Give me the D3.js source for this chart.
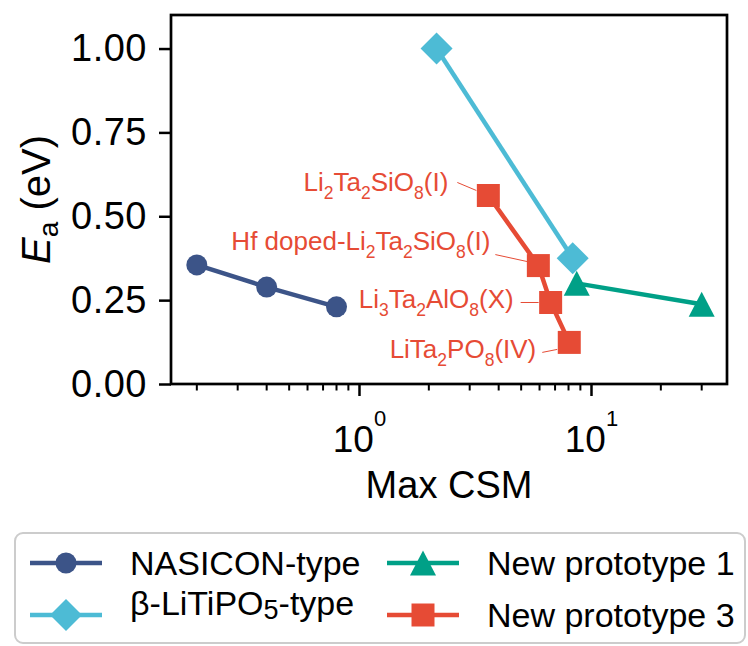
<!DOCTYPE html>
<html>
<head>
<meta charset="utf-8">
<script src="https://cdn.jsdelivr.net/npm/d3@7"></script>
<style>
  body { margin: 0; background: #fff; }
  svg { display: block; font-family: "Liberation Sans", Arial, sans-serif; }
</style>
</head>
<body>
<div id="chart"></div>
<script>
// --- data ---
const nasiconX = [0.20, 0.40, 0.80];
const nasiconY = [0.355, 0.289, 0.230];
const betaX = [2.16, 8.34];
const betaY = [1.00, 0.375];
const proto1X = [8.68, 30.0];
const proto1Y = [0.300, 0.238];
const proto3X = [3.61, 5.93, 6.70, 8.06];
const proto3Y = [0.562, 0.353, 0.243, 0.124];
// "_d" marks a subscript digit
const proto3Labels = ["Li_2Ta_2SiO_8(I)", "Hf doped-Li_2Ta_2SiO_8(I)", "Li_3Ta_2AlO_8(X)", "LiTa_2PO_8(IV)"];

const yTicks = [0, 0.25, 0.5, 0.75, 1.0];
const xMajor = [1, 10];
const xMinor = [0.2, 0.3, 0.4, 0.5, 0.6, 0.7, 0.8, 0.9, 2, 3, 4, 5, 6, 7, 8, 9, 20, 30];

const series = [
  {name: "NASICON-type", xs: nasiconX, ys: nasiconY, color: "#3C5488", shape: "circle"},
  {name: "β-LiTiPO_5-type", xs: betaX, ys: betaY, color: "#4DBBD5", shape: "diamond"},
  {name: "New prototype 1", xs: proto1X, ys: proto1Y, color: "#00A087", shape: "triangle"},
  {name: "New prototype 3", xs: proto3X, ys: proto3Y, color: "#E64B35", shape: "square"}
];

// label placement relative to each point (px): text end, baseline, leader start/end
const labelLayout = [
  {tx: -40, ty: -4, l: [-31, -13, -12, -5]},
  {tx: -48, ty: -16, l: [-43, -11, -11, -4]},
  {tx: -37, ty: 6, l: [-30, 0, -12, 0]},
  {tx: -33, ty: 16, l: [-27, 10, -12, 7]}
];

const width = 748, height = 646;
const margin = {top: 15, right: 21, bottom: 262, left: 171};

const x = d3.scaleLog()
  .domain([Math.pow(10, -0.8103), Math.pow(10, 1.5862)])
  .range([margin.left, width - margin.right]);
const y = d3.scaleLinear()
  .domain([0, 1.1])
  .range([height - margin.bottom, margin.top]);

const svg = d3.select("#chart").append("svg")
  .attr("width", width)
  .attr("height", height)
  .attr("viewBox", [0, 0, width, height]);

function markerPath(shape) {
  const p = d3.path();
  if (shape === "circle") {
    p.arc(0, 0, 10.5, 0, 2 * Math.PI);
  } else if (shape === "diamond") {
    const r = 16;
    p.moveTo(0, -r); p.lineTo(r, 0); p.lineTo(0, r); p.lineTo(-r, 0); p.closePath();
  } else if (shape === "triangle") {
    const w = 13, h = 12.5;
    p.moveTo(0, -h); p.lineTo(w, h); p.lineTo(-w, h); p.closePath();
  } else {
    const s = 11.5;
    p.rect(-s, -s, 2 * s, 2 * s);
  }
  return p.toString();
}

// text with "_d" subscripts into tspans
function richText(sel, str, size, subSize, shift) {
  const parts = str.split(/(_\d)/).filter(s => s.length);
  let cur = 0;
  parts.forEach(part => {
    const sub = part.startsWith("_");
    const want = sub ? shift : 0;
    sel.append("tspan")
      .attr("font-size", sub ? subSize : size)
      .attr("dy", want - cur)
      .text(sub ? part.slice(1) : part);
    cur = want;
  });
}

// axes
const yAxis = svg.append("g")
  .attr("transform", `translate(${margin.left},0)`)
  .call(d3.axisLeft(y).tickValues(yTicks).tickFormat(d3.format(".2f")).tickSize(12).tickPadding(12));
yAxis.select(".domain").remove();
yAxis.selectAll(".tick line").attr("stroke-width", 2.5);
yAxis.selectAll(".tick text")
  .attr("font-size", 38).attr("letter-spacing", 0.5)
  .attr("fill", "#000").attr("font-family", null);

const xBase = height - margin.bottom;
const xAxis = svg.append("g")
  .attr("transform", `translate(0,${xBase})`)
  .call(d3.axisBottom(x).tickValues(xMajor).tickSize(12).tickFormat(""));
xAxis.select(".domain").remove();
xAxis.selectAll(".tick line").attr("stroke-width", 2.5);
xAxis.selectAll(".tick text").remove();
xAxis.selectAll(".tick").append("text")
  .attr("y", 68)
  .attr("text-anchor", "middle")
  .attr("fill", "#000")
  .each(function(d) {
    const t = d3.select(this);
    t.append("tspan").attr("font-size", 37).text("10");
    t.append("tspan").attr("font-size", 22).attr("dy", -26).text(Math.round(Math.log10(d)));
  });

svg.append("g")
  .attr("transform", `translate(0,${xBase})`)
  .selectAll("line")
  .data(xMinor)
  .join("line")
  .attr("x1", d => x(d)).attr("x2", d => x(d))
  .attr("y1", 0).attr("y2", 6.5)
  .attr("stroke", "#000").attr("stroke-width", 2);

// spines
svg.append("rect")
  .attr("x", margin.left).attr("y", margin.top)
  .attr("width", width - margin.right - margin.left)
  .attr("height", xBase - margin.top)
  .attr("fill", "none").attr("stroke", "#000").attr("stroke-width", 2.7);

// axis titles
svg.append("text")
  .attr("x", (margin.left + width - margin.right) / 2)
  .attr("y", 498)
  .attr("text-anchor", "middle")
  .attr("font-size", 38)
  .text("Max CSM");

const yLab = svg.append("text")
  .attr("transform", `translate(50,${(margin.top + xBase) / 2}) rotate(-90)`)
  .attr("text-anchor", "middle")
  .attr("font-size", 40);
yLab.append("tspan").attr("font-style", "italic").text("E");
yLab.append("tspan").attr("font-size", 28).attr("dy", 8).text("a");
yLab.append("tspan").attr("dy", -8).text(" (eV)");

// series
const line = d3.line().x(d => x(d[0])).y(d => y(d[1]));
series.forEach(s => {
  const pts = s.xs.map((v, i) => [v, s.ys[i]]);
  const g = svg.append("g");
  g.append("path")
    .attr("d", line(pts))
    .attr("fill", "none")
    .attr("stroke", s.color)
    .attr("stroke-width", 4.5);
  g.selectAll("path.m")
    .data(pts)
    .join("path")
    .attr("class", "m")
    .attr("transform", d => `translate(${x(d[0])},${y(d[1])})`)
    .attr("d", markerPath(s.shape))
    .attr("fill", s.color);
});

// annotations for new prototype 3
const red = "#E64B35";
const ann = svg.append("g");
proto3Labels.forEach((lab, i) => {
  const px = x(proto3X[i]), py = y(proto3Y[i]);
  const L = labelLayout[i];
  ann.append("line")
    .attr("x1", px + L.l[0]).attr("y1", py + L.l[1])
    .attr("x2", px + L.l[2]).attr("y2", py + L.l[3])
    .attr("stroke", red).attr("stroke-width", 1);
  const t = ann.append("text")
    .attr("x", px + L.tx).attr("y", py + L.ty)
    .attr("text-anchor", "end")
    .attr("fill", red);
  richText(t, lab, 26, 17.5, 8);
});

// legend
const legend = svg.append("g");
legend.append("rect")
  .attr("x", 15).attr("y", 533).attr("width", 730).attr("height", 110)
  .attr("rx", 8)
  .attr("fill", "#fff").attr("stroke", "#cccccc").attr("stroke-width", 2);
const legendPos = [[30, 563], [30, 615], [387, 563], [387, 615]];
series.forEach((s, i) => {
  const [lx, ly] = legendPos[i];
  const g = legend.append("g").attr("transform", `translate(${lx},${ly})`);
  g.append("line").attr("x1", 0).attr("x2", 72).attr("stroke", s.color).attr("stroke-width", 4.5);
  g.append("path").attr("transform", "translate(36,0)").attr("d", markerPath(s.shape)).attr("fill", s.color);
  const t = g.append("text").attr("x", 100).attr("dy", "0.36em");
  if (s.name.includes("_")) {
    richText(t, s.name, 34, 27, 4);
  } else {
    t.attr("font-size", 34).text(s.name);
  }
});
</script>
</body>
</html>
